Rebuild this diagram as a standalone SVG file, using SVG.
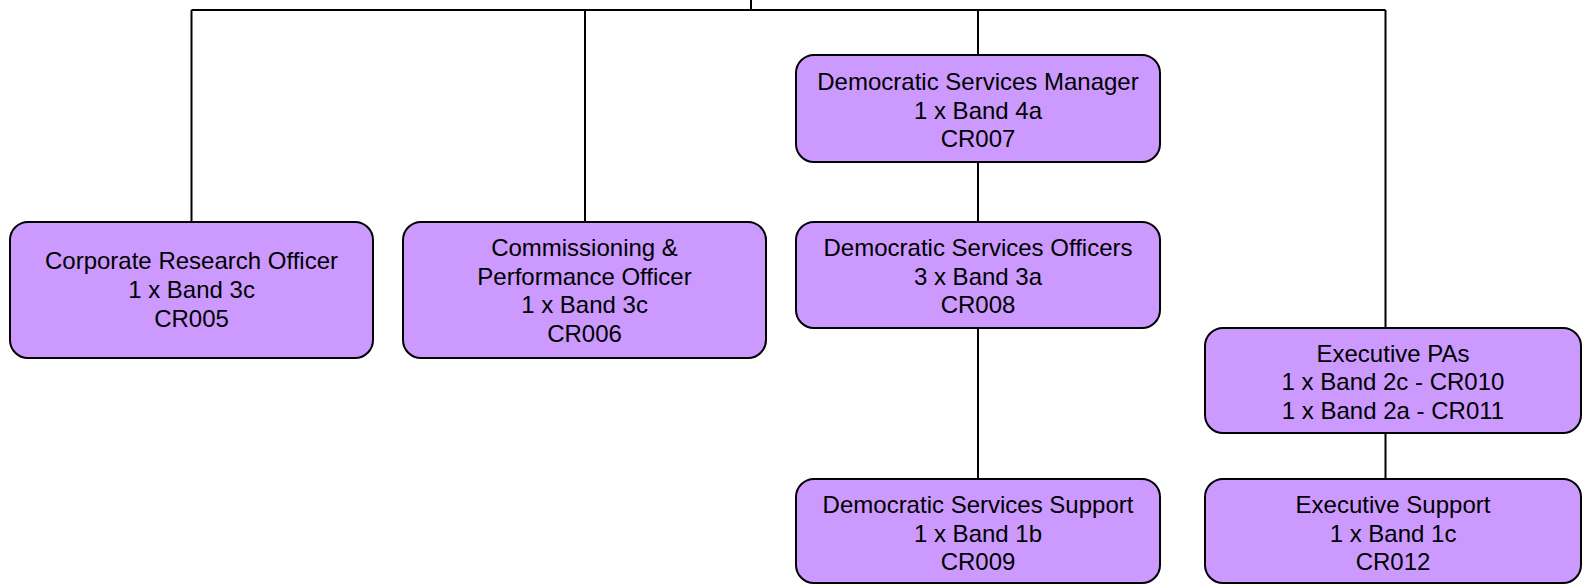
<svg xmlns="http://www.w3.org/2000/svg" width="1582" height="584" viewBox="0 0 1582 584">
<style>
.box{fill:#CC99FF;stroke:#000;stroke-width:2}
.lbl{font-family:"Liberation Sans",Arial,sans-serif;font-size:24px;fill:#000;text-anchor:middle}
.conn{stroke:#000;stroke-width:2;fill:none}
</style>
<rect width="1582" height="584" fill="#fff"/>
<g id="connectors" class="conn">
<path d="M751,0 V10"/>
<path d="M191.5,10 H1385.5"/>
<path d="M191.5,10 V222"/>
<path d="M585,10 V222"/>
<path d="M978,10 V55"/>
<path d="M978,162 V222"/>
<path d="M978,328 V479"/>
<path d="M1385.5,10 V328"/>
<path d="M1385.5,433 V479"/>
</g>
<g id="cr005">
<rect class="box" x="10" y="222" width="363" height="136" rx="18"/>
<text class="lbl" x="191.5" y="269">Corporate Research Officer</text>
<text class="lbl" x="191.5" y="298">1 x Band 3c</text>
<text class="lbl" x="191.5" y="327">CR005</text>
</g>
<g id="cr006">
<rect class="box" x="403" y="222" width="363" height="136" rx="18"/>
<text class="lbl" x="584.5" y="256">Commissioning &amp;</text>
<text class="lbl" x="584.5" y="284.5">Performance Officer</text>
<text class="lbl" x="584.5" y="313">1 x Band 3c</text>
<text class="lbl" x="584.5" y="341.5">CR006</text>
</g>
<g id="cr007">
<rect class="box" x="796" y="55" width="364" height="107" rx="18"/>
<text class="lbl" x="978" y="90">Democratic Services Manager</text>
<text class="lbl" x="978" y="118.5">1 x Band 4a</text>
<text class="lbl" x="978" y="147">CR007</text>
</g>
<g id="cr008">
<rect class="box" x="796" y="222" width="364" height="106" rx="18"/>
<text class="lbl" x="978" y="256">Democratic Services Officers</text>
<text class="lbl" x="978" y="284.5">3 x Band 3a</text>
<text class="lbl" x="978" y="313">CR008</text>
</g>
<g id="cr009">
<rect class="box" x="796" y="479" width="364" height="104" rx="18"/>
<text class="lbl" x="978" y="512.5">Democratic Services Support</text>
<text class="lbl" x="978" y="541.5">1 x Band 1b</text>
<text class="lbl" x="978" y="570">CR009</text>
</g>
<g id="cr010-011">
<rect class="box" x="1205" y="328" width="376" height="105" rx="18"/>
<text class="lbl" x="1393" y="361.5">Executive PAs</text>
<text class="lbl" x="1393" y="390">1 x Band 2c - CR010</text>
<text class="lbl" x="1393" y="418.5">1 x Band 2a - CR011</text>
</g>
<g id="cr012">
<rect class="box" x="1205" y="479" width="376" height="104" rx="18"/>
<text class="lbl" x="1393" y="512.5">Executive Support</text>
<text class="lbl" x="1393" y="541.5">1 x Band 1c</text>
<text class="lbl" x="1393" y="570">CR012</text>
</g>
</svg>
